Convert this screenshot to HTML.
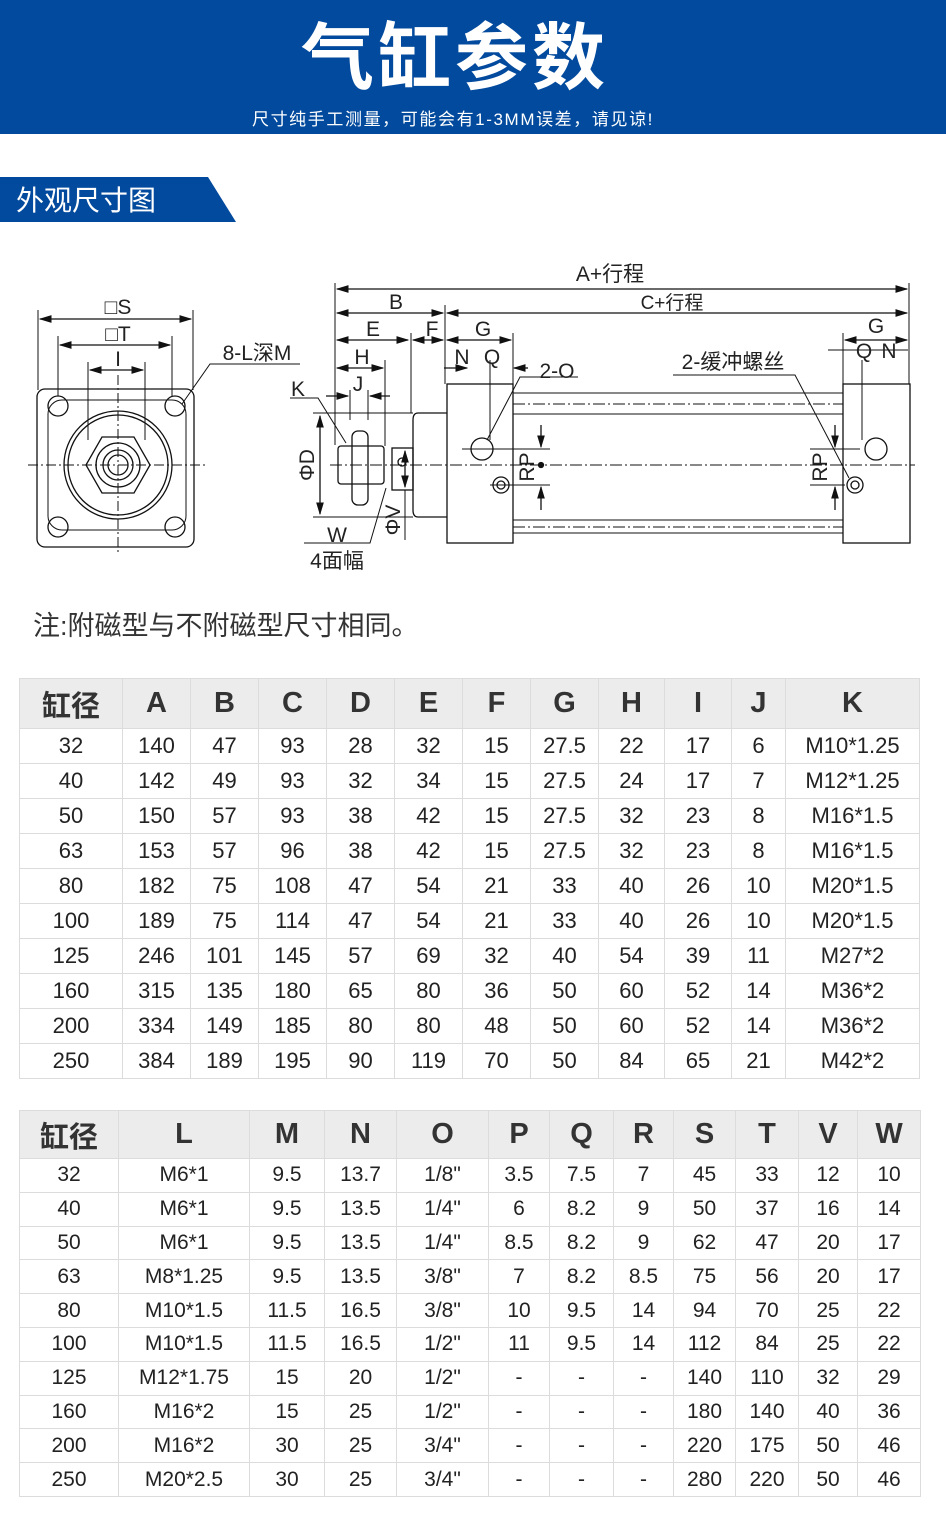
<!DOCTYPE html>
<html><head><meta charset="utf-8"><style>
*{margin:0;padding:0;box-sizing:border-box}
body{width:946px;height:1536px;background:#fff;position:relative;overflow:hidden;font-family:"Liberation Sans","Noto Sans CJK SC",sans-serif;color:#222}
.hdr{position:absolute;left:0;top:0;width:946px;height:134px;background:#024a9d}
.title{position:absolute;left:0;width:910px;top:14px;text-align:center;color:#fff;font-size:73px;font-weight:bold;letter-spacing:4px;line-height:90px}
.sub{position:absolute;left:0;width:906px;top:105px;text-align:center;color:#fff;font-size:17px;letter-spacing:1.6px}
.tab{position:absolute;left:0;top:177px;width:236px;height:45px;background:#024a9d;clip-path:polygon(0 0,208px 0,236px 45px,0 45px)}
.tabt{position:absolute;left:16px;top:183px;color:#fff;font-size:28px;line-height:36px}
.note{position:absolute;left:33px;top:604px;font-size:27px;color:#333}
table{position:absolute;left:19px;border-collapse:collapse;table-layout:fixed}
td{border:1px solid #dcdcdc;text-align:center;font-size:22px;color:#222;padding:0;white-space:nowrap}
tr.h td{background:#ececec;font-weight:bold;font-size:29px;color:#333}
#t1{top:678px;width:900px}
#t1 tr{height:35px}#t1 tr.h{height:50px}
#t2{top:1110px;width:901px}
#t2 tr{height:33.8px}#t2 tr.h{height:48px}
#t2 td{font-size:21px}#t2 tr.h td{font-size:29px}
svg{position:absolute;left:0;top:0}
</style></head><body>
<div class="hdr"></div>
<div class="title">气缸参数</div>
<div class="sub">尺寸纯手工测量，可能会有1-3MM误差，请见谅!</div>
<div class="tab"></div><div class="tabt">外观尺寸图</div>

<svg width="946" height="600" viewBox="0 0 946 600" font-family="Liberation Sans,Noto Sans CJK SC,sans-serif" fill="none" stroke="#111" stroke-width="1.3">
<defs><marker id="a" markerWidth="10" markerHeight="8" refX="9" refY="4" orient="auto-start-reverse"><path d="M0,1 L10,4 L0,7z" fill="#111" stroke="none"/></marker></defs>
<rect x="37" y="389" width="157" height="158" rx="8"/>
<path d="M62,400 h110 a14,14 0 0 1 14,14 v102 a14,14 0 0 1 -14,14 h-110 a14,14 0 0 1 -14,-14 v-102 a14,14 0 0 1 14,-14z" stroke-width="1"/>
<circle cx="118" cy="465" r="54"/><circle cx="118" cy="465" r="50"/>
<polygon points="86,465 102,437 134,437 150,465 134,493 102,493"/>
<circle cx="118" cy="465" r="22"/><circle cx="118" cy="465" r="15"/><circle cx="118" cy="465" r="10"/>
<g><circle cx="58" cy="406" r="10"/><circle cx="175" cy="406" r="10"/><circle cx="58" cy="527" r="10"/><circle cx="175" cy="527" r="10"/></g>
<line x1="28" y1="465" x2="205" y2="465" stroke-dasharray="10,3,2,3" stroke-width="1"/>
<line x1="118" y1="375" x2="118" y2="555" stroke-dasharray="10,3,2,3" stroke-width="1"/>
<g stroke-width="1"><line x1="38" y1="310" x2="38" y2="390"/><line x1="193" y1="310" x2="193" y2="390"/><line x1="58" y1="336" x2="58" y2="396"/><line x1="172" y1="336" x2="172" y2="396"/><line x1="88" y1="362" x2="88" y2="440"/><line x1="145" y1="362" x2="145" y2="440"/></g>
<line x1="40" y1="319" x2="191" y2="319" marker-start="url(#a)" marker-end="url(#a)"/>
<line x1="60" y1="345" x2="170" y2="345" marker-start="url(#a)" marker-end="url(#a)"/>
<line x1="90" y1="370" x2="143" y2="370" marker-start="url(#a)" marker-end="url(#a)"/>
<polyline points="300,364 210,364 182,404" stroke-width="1"/>
<g stroke-width="1"><line x1="335" y1="283" x2="335" y2="445"/><line x1="909" y1="283" x2="909" y2="384"/><line x1="445" y1="305" x2="445" y2="384"/><line x1="411" y1="333" x2="411" y2="413"/><line x1="385" y1="360" x2="385" y2="446"/><line x1="513" y1="333" x2="513" y2="384"/><line x1="843" y1="333" x2="843" y2="384"/><line x1="490" y1="360" x2="490" y2="440"/><line x1="862" y1="360" x2="862" y2="440"/><line x1="350" y1="390" x2="350" y2="420"/><line x1="368" y1="390" x2="368" y2="420"/></g>
<line x1="337" y1="289" x2="907" y2="289" marker-start="url(#a)" marker-end="url(#a)"/>
<line x1="337" y1="313" x2="443" y2="313" marker-start="url(#a)" marker-end="url(#a)"/>
<line x1="447" y1="313" x2="907" y2="313" marker-start="url(#a)" marker-end="url(#a)"/>
<line x1="337" y1="340" x2="408" y2="340" marker-start="url(#a)" marker-end="url(#a)"/>
<line x1="413" y1="340" x2="443" y2="340" marker-start="url(#a)" marker-end="url(#a)"/>
<line x1="447" y1="340" x2="511" y2="340" marker-start="url(#a)" marker-end="url(#a)"/>
<line x1="845" y1="340" x2="907" y2="340" marker-start="url(#a)" marker-end="url(#a)"/>
<line x1="337" y1="368" x2="383" y2="368" marker-start="url(#a)" marker-end="url(#a)"/>
<line x1="444" y1="368" x2="467" y2="368" marker-end="url(#a)"/><line x1="528" y1="368" x2="514" y2="368" marker-end="url(#a)"/>
<line x1="828" y1="350" x2="908" y2="350" stroke-width="1"/>
<line x1="326" y1="396" x2="348" y2="396" marker-end="url(#a)"/><line x1="390" y1="396" x2="370" y2="396" marker-end="url(#a)"/>
<polyline points="290,398 318,398 346,443" stroke-width="1"/>
<rect x="447" y="384" width="66" height="159"/><rect x="843" y="384" width="67" height="159"/>
<g stroke-width="1"><line x1="513" y1="393" x2="843" y2="393"/><line x1="513" y1="414" x2="843" y2="414"/><line x1="513" y1="520" x2="843" y2="520"/><line x1="513" y1="533" x2="843" y2="533"/></g>
<g stroke-width="1" stroke-dasharray="12,3,2,3"><line x1="513" y1="404" x2="843" y2="404"/><line x1="513" y1="527" x2="843" y2="527"/></g>
<path d="M447,413 H418 Q413,413 413,420 V510 Q413,517 418,517 H447"/>
<rect x="392" y="448" width="21" height="42"/>
<rect x="338" y="446" width="46" height="38" rx="3"/>
<rect x="352" y="431" width="16" height="74" rx="6"/>
<circle cx="402" cy="462" r="4"/>
<line x1="313" y1="413" x2="413" y2="413" stroke-width="1"/><line x1="313" y1="517" x2="413" y2="517" stroke-width="1"/>
<line x1="320" y1="416" x2="320" y2="514" marker-start="url(#a)" marker-end="url(#a)"/>
<line x1="405" y1="451" x2="405" y2="487" marker-start="url(#a)" marker-end="url(#a)"/>
<line x1="405" y1="490" x2="405" y2="540" stroke-width="1"/>
<polyline points="304,543 370,543 386,488" stroke-width="1"/>
<line x1="330" y1="465" x2="915" y2="465" stroke-dasharray="12,3,2,3" stroke-width="1"/>
<circle cx="482" cy="449" r="11"/><circle cx="501" cy="485" r="8"/><circle cx="501" cy="485" r="4"/>
<circle cx="876" cy="449" r="11"/><circle cx="855" cy="485" r="8"/><circle cx="855" cy="485" r="4"/>
<g stroke-width="1"><line x1="462" y1="449" x2="550" y2="449"/><line x1="490" y1="485" x2="550" y2="485"/><line x1="810" y1="449" x2="860" y2="449"/><line x1="810" y1="485" x2="845" y2="485"/></g>
<line x1="541" y1="425" x2="541" y2="447" marker-end="url(#a)"/><line x1="541" y1="510" x2="541" y2="487" marker-end="url(#a)"/>
<line x1="835" y1="425" x2="835" y2="447" marker-end="url(#a)"/><line x1="835" y1="510" x2="835" y2="487" marker-end="url(#a)"/>
<circle cx="541" cy="465" r="2.5" fill="#111"/>
<polyline points="578,377 520,377 487,440" stroke-width="1"/>
<polyline points="673,375 795,375 849,478" stroke-width="1"/>
<g fill="#222" stroke="none" font-size="21" text-anchor="middle">
<text x="118" y="314">□S</text><text x="118" y="341">□T</text><text x="118" y="366">I</text>
<text x="257" y="360">8-L深M</text>
<text x="610" y="281">A+行程</text><text x="396" y="309">B</text><text x="672" y="309" font-size="19">C+行程</text>
<text x="373" y="336">E</text><text x="432" y="336">F</text><text x="483" y="336">G</text><text x="876" y="333">G</text>
<text x="462" y="364">N</text><text x="492" y="364">Q</text><text x="864" y="358">Q</text><text x="889" y="358">N</text>
<text x="362" y="364">H</text><text x="358" y="391">J</text><text x="298" y="396">K</text>
<text x="557" y="378">2-O</text><text x="733" y="369">2-缓冲螺丝</text>
<text x="337" y="542">W</text><text x="337" y="568">4面幅</text>
<text transform="translate(314,465) rotate(-90)">ΦD</text>
<text transform="translate(400,520) rotate(-90)">ΦV</text>
<text transform="translate(534,467) rotate(-90)">RP</text>
<text transform="translate(827,467) rotate(-90)">RP</text>
</g>
</svg>
<div class="note">注:附磁型与不附磁型尺寸相同。</div>

<table id="t1">
<colgroup><col style="width:103px"><col style="width:68px"><col style="width:68px"><col style="width:68px"><col style="width:68px"><col style="width:68px"><col style="width:68px"><col style="width:68px"><col style="width:66px"><col style="width:67px"><col style="width:54px"><col style="width:134px"></colgroup>
<tr class="h"><td>缸径</td><td>A</td><td>B</td><td>C</td><td>D</td><td>E</td><td>F</td><td>G</td><td>H</td><td>I</td><td>J</td><td>K</td></tr>
<tr><td>32</td><td>140</td><td>47</td><td>93</td><td>28</td><td>32</td><td>15</td><td>27.5</td><td>22</td><td>17</td><td>6</td><td>M10*1.25</td></tr>
<tr><td>40</td><td>142</td><td>49</td><td>93</td><td>32</td><td>34</td><td>15</td><td>27.5</td><td>24</td><td>17</td><td>7</td><td>M12*1.25</td></tr>
<tr><td>50</td><td>150</td><td>57</td><td>93</td><td>38</td><td>42</td><td>15</td><td>27.5</td><td>32</td><td>23</td><td>8</td><td>M16*1.5</td></tr>
<tr><td>63</td><td>153</td><td>57</td><td>96</td><td>38</td><td>42</td><td>15</td><td>27.5</td><td>32</td><td>23</td><td>8</td><td>M16*1.5</td></tr>
<tr><td>80</td><td>182</td><td>75</td><td>108</td><td>47</td><td>54</td><td>21</td><td>33</td><td>40</td><td>26</td><td>10</td><td>M20*1.5</td></tr>
<tr><td>100</td><td>189</td><td>75</td><td>114</td><td>47</td><td>54</td><td>21</td><td>33</td><td>40</td><td>26</td><td>10</td><td>M20*1.5</td></tr>
<tr><td>125</td><td>246</td><td>101</td><td>145</td><td>57</td><td>69</td><td>32</td><td>40</td><td>54</td><td>39</td><td>11</td><td>M27*2</td></tr>
<tr><td>160</td><td>315</td><td>135</td><td>180</td><td>65</td><td>80</td><td>36</td><td>50</td><td>60</td><td>52</td><td>14</td><td>M36*2</td></tr>
<tr><td>200</td><td>334</td><td>149</td><td>185</td><td>80</td><td>80</td><td>48</td><td>50</td><td>60</td><td>52</td><td>14</td><td>M36*2</td></tr>
<tr><td>250</td><td>384</td><td>189</td><td>195</td><td>90</td><td>119</td><td>70</td><td>50</td><td>84</td><td>65</td><td>21</td><td>M42*2</td></tr>
</table>

<table id="t2">
<colgroup><col style="width:99px"><col style="width:131px"><col style="width:75px"><col style="width:72px"><col style="width:92px"><col style="width:61px"><col style="width:64px"><col style="width:60px"><col style="width:62px"><col style="width:63px"><col style="width:59px"><col style="width:63px"></colgroup>
<tr class="h"><td>缸径</td><td>L</td><td>M</td><td>N</td><td>O</td><td>P</td><td>Q</td><td>R</td><td>S</td><td>T</td><td>V</td><td>W</td></tr>
<tr><td>32</td><td>M6*1</td><td>9.5</td><td>13.7</td><td>1/8"</td><td>3.5</td><td>7.5</td><td>7</td><td>45</td><td>33</td><td>12</td><td>10</td></tr>
<tr><td>40</td><td>M6*1</td><td>9.5</td><td>13.5</td><td>1/4"</td><td>6</td><td>8.2</td><td>9</td><td>50</td><td>37</td><td>16</td><td>14</td></tr>
<tr><td>50</td><td>M6*1</td><td>9.5</td><td>13.5</td><td>1/4"</td><td>8.5</td><td>8.2</td><td>9</td><td>62</td><td>47</td><td>20</td><td>17</td></tr>
<tr><td>63</td><td>M8*1.25</td><td>9.5</td><td>13.5</td><td>3/8"</td><td>7</td><td>8.2</td><td>8.5</td><td>75</td><td>56</td><td>20</td><td>17</td></tr>
<tr><td>80</td><td>M10*1.5</td><td>11.5</td><td>16.5</td><td>3/8"</td><td>10</td><td>9.5</td><td>14</td><td>94</td><td>70</td><td>25</td><td>22</td></tr>
<tr><td>100</td><td>M10*1.5</td><td>11.5</td><td>16.5</td><td>1/2"</td><td>11</td><td>9.5</td><td>14</td><td>112</td><td>84</td><td>25</td><td>22</td></tr>
<tr><td>125</td><td>M12*1.75</td><td>15</td><td>20</td><td>1/2"</td><td>-</td><td>-</td><td>-</td><td>140</td><td>110</td><td>32</td><td>29</td></tr>
<tr><td>160</td><td>M16*2</td><td>15</td><td>25</td><td>1/2"</td><td>-</td><td>-</td><td>-</td><td>180</td><td>140</td><td>40</td><td>36</td></tr>
<tr><td>200</td><td>M16*2</td><td>30</td><td>25</td><td>3/4"</td><td>-</td><td>-</td><td>-</td><td>220</td><td>175</td><td>50</td><td>46</td></tr>
<tr><td>250</td><td>M20*2.5</td><td>30</td><td>25</td><td>3/4"</td><td>-</td><td>-</td><td>-</td><td>280</td><td>220</td><td>50</td><td>46</td></tr>
</table>
</body></html>
